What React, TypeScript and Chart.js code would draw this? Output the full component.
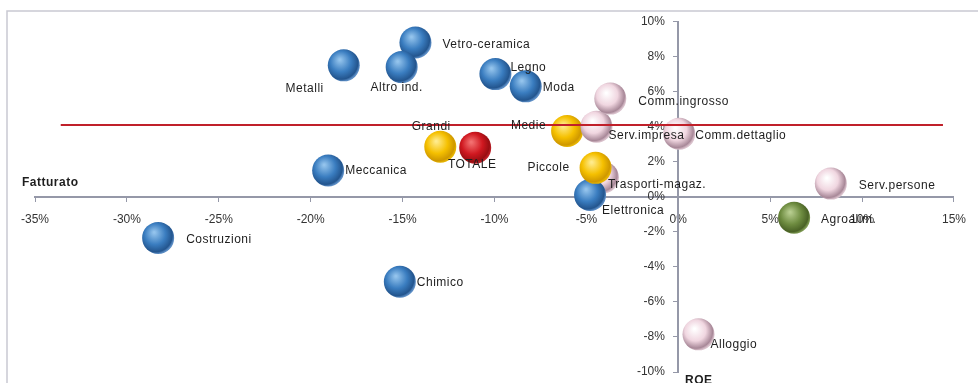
import React, { useEffect, useRef } from "react";
import { Chart, registerables } from "chart.js";

Chart.register(...registerables);

// Sector names, revenue change (x, %) and ROE (y, %)
const sectors = [
  "Vetro-ceramica",
  "Altro ind.",
  "Metalli",
  "Legno",
  "Moda",
  "Meccanica",
  "Costruzioni",
  "Chimico",
  "Trasporti-magaz.",
  "Elettronica",
  "Medie",
  "Serv.impresa",
  "Comm.ingrosso",
  "Comm.dettaglio",
  "Grandi",
  "TOTALE",
  "Piccole",
  "Serv.persone",
  "Agroalim.",
  "Alloggio",
];

const fatturato = [
  -14.3, -15.05, -18.2, -9.95, -8.3, -19.05, -28.3, -15.15, -4.1, -4.8,
  -6.05, -4.45, -3.7, 0.05, -12.95, -11.05, -4.5, 8.3, 6.3, 1.1,
];

const roe = [
  8.8, 7.4, 7.5, 7.0, 6.3, 1.5, -2.35, -4.85, 1.1, 0.1,
  3.75, 4.0, 5.6, 3.6, 2.85, 2.8, 1.65, 0.75, -1.2, -7.85,
];

// Colour family of each bubble
const groups = [
  "ind", "ind", "ind", "ind", "ind", "ind", "ind", "ind", "serv", "ind",
  "size", "serv", "serv", "serv", "size", "tot", "size", "serv", "agro", "serv",
];

// Reference line (average ROE)
const refLineX = [-33.6, 14.4];
const refLineY = [4.1, 4.1];

// Axis ranges and steps
const xMin = -35, xMax = 15, xStep = 5;
const yMin = -10, yMax = 10, yStep = 2;

// Label placement around each bubble: dx, dy, alignment
const labelPlacement: Array<[number, number, CanvasTextAlign]> = [
  [27, 2, "left"],
  [-5, 21, "center"],
  [-20, 23, "right"],
  [15, -6, "left"],
  [17, 1, "left"],
  [17, 0, "left"],
  [28, 2, "left"],
  [17, 1, "left"],
  [5, 7, "left"],
  [12, 16, "left"],
  [-21, -5, "right"],
  [12, 9, "left"],
  [28, 3, "left"],
  [16, 2, "left"],
  [-9, -20, "center"],
  [-3, 17, "center"],
  [-26, 0, "right"],
  [28, 2, "left"],
  [27, 2, "left"],
  [12, 10, "left"],
];

// highlight, body, shadow, bottom reflection
const palette: Record<string, [string, string, string, string]> = {
  ind: ["#93c3ec", "#3a7dc0", "#23558e", "#5a8cc4"],
  size: ["#ffeb8c", "#f5c000", "#cf9800", "#e6b400"],
  tot: ["#f27070", "#d01820", "#980e12", "#bc1e26"],
  serv: ["#ffffff", "#f0d6e0", "#a88898", "#d8bfca"],
  agro: ["#b6cc8e", "#6e8c40", "#4a6226", "#7a964e"],
};

const FONT = "'Liberation Sans', Arial, sans-serif";
const BUBBLE_R = 16;

const sphereFill = (ctx: any) => {
  const chart = ctx.chart;
  const i = ctx.dataIndex;
  const cols = palette[groups[i]] || palette.ind;
  const xs = chart.scales?.x;
  const ys = chart.scales?.y;
  if (!xs || !ys || i === undefined) return cols[1];
  const cx = xs.getPixelForValue(fatturato[i]);
  const cy = ys.getPixelForValue(roe[i]);
  if (!Number.isFinite(cx) || !Number.isFinite(cy)) return cols[1];
  const r = BUBBLE_R;
  const g = chart.ctx.createRadialGradient(
    cx - r * 0.25, cy - r * 0.35, r * 0.05,
    cx - r * 0.15, cy - r * 0.15, r * 1.15
  );
  g.addColorStop(0, cols[0]);
  g.addColorStop(0.55, cols[1]);
  g.addColorStop(0.9, cols[2]);
  g.addColorStop(1, cols[3]);
  return g;
};

const decorPlugin = {
  id: "decor",
  beforeDraw(chart: any) {
    const c = chart.ctx;
    c.save();
    c.fillStyle = "#ffffff";
    c.fillRect(0, 0, chart.width, chart.height);
    c.strokeStyle = "#c9c9d2";
    c.lineWidth = 1.5;
    c.strokeRect(7, 11, chart.width + 20, chart.height + 20);
    c.restore();
  },
  afterDatasetsDraw(chart: any) {
    const c = chart.ctx;
    const meta = chart.getDatasetMeta(1);
    c.save();
    c.font = `12px ${FONT}`;
    (c as any).letterSpacing = "0.5px";
    c.fillStyle = "#1e1e1e";
    c.textBaseline = "middle";
    meta.data.forEach((el: any, i: number) => {
      const [dx, dy, align] = labelPlacement[i];
      c.textAlign = align;
      c.fillText(sectors[i], el.x + dx, el.y + dy);
    });
    c.font = `bold 12px ${FONT}`;
    c.textAlign = "left";
    c.fillText("Fatturato", 22, 183);
    c.textBaseline = "top";
    c.fillText("ROE", 685, 375);
    c.restore();
  },
};

export default function App() {
  const ref = useRef<HTMLCanvasElement | null>(null);

  useEffect(() => {
    if (!ref.current) return;
    const axisColor = "#9598a8";
    const chart = new Chart(ref.current, {
      type: "bubble",
      data: {
        datasets: [
          {
            type: "line",
            data: refLineX.map((x, i) => ({ x, y: refLineY[i] })),
            borderColor: "#c0202a",
            borderWidth: 2,
            pointRadius: 0,
            fill: false,
            order: 0,
          } as any,
          {
            data: fatturato.map((x, i) => ({ x, y: roe[i] })),
            radius: BUBBLE_R,
            backgroundColor: sphereFill,
            borderWidth: 0,
            order: 1,
          } as any,
        ],
      },
      options: {
        responsive: false,
        animation: false,
        events: [],
        layout: { autoPadding: false, padding: { left: 35, right: 21, top: 21.5, bottom: 11 } },
        plugins: { legend: { display: false }, tooltip: { enabled: false } },
        scales: {
          x: {
            type: "linear",
            min: xMin,
            max: xMax,
            position: { y: 0 } as any,
            border: { display: true, color: axisColor, width: 2 },
            grid: { drawOnChartArea: false, drawTicks: true, tickLength: 4, tickColor: axisColor },
            ticks: {
              stepSize: xStep,
              padding: 12,
              color: "#333333",
              font: { family: FONT, size: 12 },
              maxRotation: 0,
              callback: (v: any) => `${v}%`,
            },
          },
          y: {
            type: "linear",
            min: yMin,
            max: yMax,
            position: { x: 0 } as any,
            border: { display: true, color: axisColor, width: 2 },
            grid: { drawOnChartArea: false, drawTicks: true, tickLength: 4, tickColor: axisColor },
            ticks: {
              stepSize: yStep,
              padding: 0,
              color: "#333333",
              font: { family: FONT, size: 12 },
              // trailing spaces keep the labels clear of the axis line
              callback: (v: any) => `${v}%    `,
            },
          },
        },
      },
      plugins: [decorPlugin],
    });
    return () => chart.destroy();
  }, []);

  return (
    <div style={{ position: "fixed", left: 0, top: 0, width: 978, height: 383, background: "#fff" }}>
      <canvas ref={ref} width={978} height={383} style={{ display: "block" }} />
    </div>
  );
}
